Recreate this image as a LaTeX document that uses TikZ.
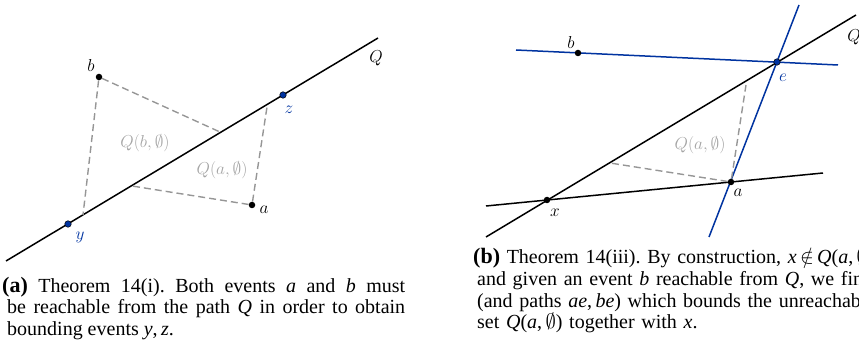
\documentclass[tikz,border=0pt]{standalone}
\usepackage{fontspec}
\setmainfont{Liberation Serif}
\usetikzlibrary{calc}
\definecolor{evblue}{RGB}{0,51,160}
\definecolor{reachgray}{RGB}{150,150,150}
\definecolor{setgray}{RGB}{165,165,165}
\frenchspacing

\begin{document}
\begin{tikzpicture}[x=1pt,y=-1pt,font=\fontsize{20}{21.6}\selectfont,
  qline/.style={black,line width=1.5pt},
  bline/.style={evblue,line width=1.5pt},
  reach/.style={reachgray,line width=1.4pt,dash pattern=on 7pt off 4pt},
  dot/.style={circle,fill=black,inner sep=0pt,minimum size=6.5pt},
  evdot/.style={circle,fill=evblue,draw=black,line width=0.5pt,inner sep=0pt,minimum size=6.5pt},
  lbl/.style={inner sep=0pt,font=\fontsize{19}{19}\selectfont},
  setlbl/.style={lbl,text=setgray},
  caption/.style={anchor=base west,inner sep=0pt,text width=398pt,align=justify}]
\useasboundingbox (0,0) rectangle (859,347);
\clip (0,0) rectangle (859,347);

% (a) left picture
\coordinate (Qs) at (6,261);
\coordinate (Qe) at (378,38);
\coordinate (bq) at (220,132);
\coordinate (by) at (83,215);
\coordinate (aq) at (132,186);
\coordinate (az) at (267,107);
\draw[qline] (Qs) -- (Qe);
\node[dot] (b) at (99,77) {};
\node[dot] (a) at (252,205) {};
\node[evdot] (y) at (68,224) {};
\node[evdot] (z) at (283,95) {};
\draw[reach] (b) -- (bq);
\draw[reach] (b) -- (by);
\draw[reach] (a) -- (aq);
\draw[reach] (a) -- (az);
\node[lbl] (lQ) at (376,58) {$Q$};
\node[lbl] (lb) at (91,66) {$b$};
\node[lbl] (la) at (264,210) {$a$};
\node[lbl,text=evblue] (lz) at (289,110) {$z$};
\node[lbl,text=evblue] (ly) at (80,237) {$y$};
\node[setlbl] (Qb) at (145,143) {$Q(b,\emptyset)$};
\node[setlbl] (Qa) at (222,170) {$Q(a,\emptyset)$};

% (b) right picture
\coordinate (Rs) at (486,237);
\coordinate (Re) at (856,15);
\coordinate (xs) at (486,206);
\coordinate (xe) at (823,173);
\coordinate (bs) at (516,50);
\coordinate (be) at (838,65);
\coordinate (as) at (709,237);
\coordinate (ae) at (799,5);
\coordinate (aQ) at (610,163);
\coordinate (aE) at (746,85);
\draw[qline] (Rs) -- (Re);
\draw[qline] (xs) -- (xe);
\draw[bline] (bs) -- (be);
\draw[bline] (as) -- (ae);
\node[dot] (x) at (547,200) {};
\node[dot] (a2) at (731,182) {};
\node[dot] (b2) at (578,53) {};
\node[evdot] (e) at (777,62) {};
\draw[reach] (a2) -- (aQ);
\draw[reach] (a2) -- (aE);
\node[lbl] (lQ2) at (854,37) {$Q$};
\node[lbl] (lb2) at (571,43) {$b$};
\node[lbl] (lx) at (555,213) {$x$};
\node[lbl] (la2) at (738,193) {$a$};
\node[lbl,text=evblue] (le) at (783,78) {$e$};
\node[setlbl] (Qa2) at (700,145) {$Q(a,\emptyset)$};

% captions
\node[caption] (capa) at (7,292) {\hspace*{-5pt}{\fontsize{22}{22}\selectfont\bfseries(a)} Theorem 14(i). Both events \textit{a} and \textit{b} must\linebreak be reachable from the path \textit{Q} in order to obtain\linebreak bounding events \textit{y},\,\textit{z}.};
\node[caption,text width=470pt,align=left] (capb) at (477,264) {\hspace*{-4pt}{\fontsize{22}{22}\selectfont\bfseries(b)} Theorem 14(iii). By construction, \textit{x}\,$\notin$\,\textit{Q}(\textit{a},\,$\emptyset$),\\ and given an event \textit{b} reachable from \textit{Q}, we find \textit{e}\\ (and paths \textit{ae},\,\textit{be}) which bounds the unreachable\\ set \textit{Q}(\textit{a},\,$\emptyset$) together with \textit{x}.};
\end{tikzpicture}
\end{document}
